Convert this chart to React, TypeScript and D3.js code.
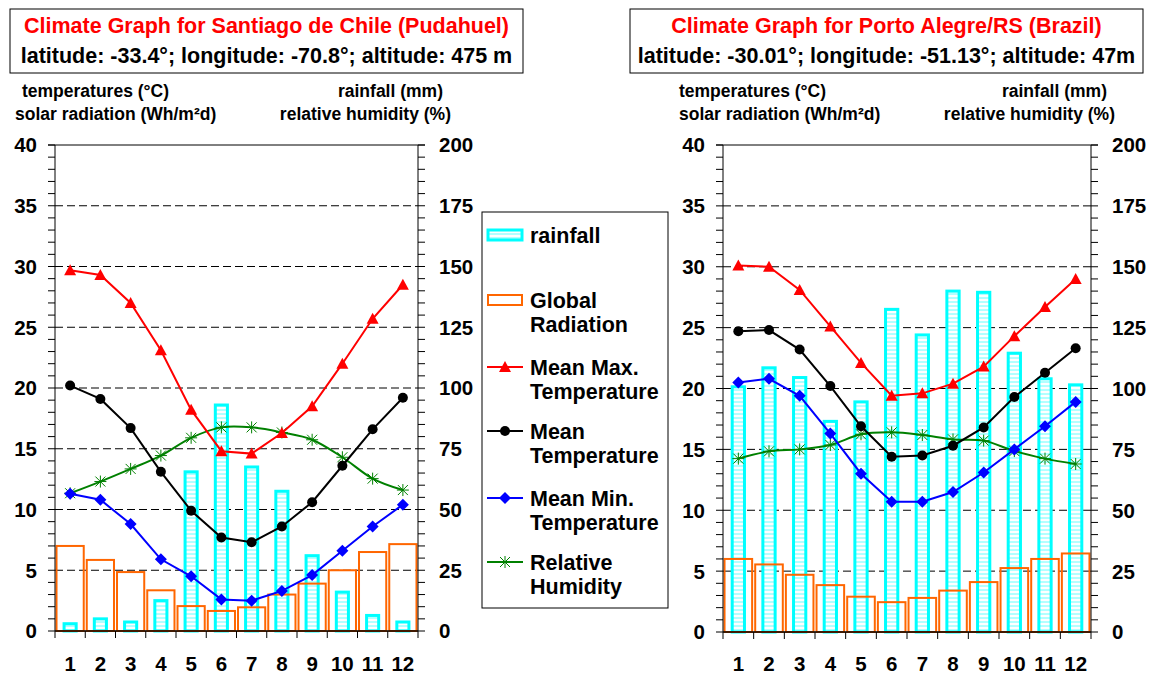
import React from 'react';
import * as d3 from 'd3';

const months = ['1', '2', '3', '4', '5', '6', '7', '8', '9', '10', '11', '12'];
const tempTicks = [0, 5, 10, 15, 20, 25, 30, 35, 40];
const rainTicks = [0, 25, 50, 75, 100, 125, 150, 175, 200];

// Santiago de Chile (Pudahuel)
const scRain = [3, 5, 3.7, 12.5, 65.5, 93, 67.5, 57.5, 31, 16, 6.4, 3.7];
const scRadiation = [7.0, 5.85, 4.85, 3.35, 2.05, 1.65, 1.95, 3.0, 3.9, 5.0, 6.5, 7.15];
const scTmax = [29.7, 29.3, 27.0, 23.1, 18.2, 14.8, 14.6, 16.3, 18.5, 22.0, 25.7, 28.5];
const scTmean = [20.2, 19.1, 16.7, 13.1, 9.9, 7.7, 7.3, 8.6, 10.6, 13.6, 16.6, 19.2];
const scTmin = [11.3, 10.8, 8.8, 5.9, 4.5, 2.6, 2.5, 3.3, 4.6, 6.6, 8.6, 10.4];
const scHumidity = [56.7, 61.5, 66.7, 72.2, 79.5, 83.8, 83.8, 81.7, 78.7, 71.5, 62.7, 58.0];

// Porto Alegre/RS (Brazil)
const paRain = [100.7, 108.5, 104.5, 86.5, 94.5, 132.5, 122, 140, 139.5, 114.5, 104, 101.5];
const paRadiation = [6.0, 5.55, 4.7, 3.85, 2.9, 2.45, 2.8, 3.4, 4.1, 5.25, 6.0, 6.45];
const paTmax = [30.1, 30.0, 28.1, 25.1, 22.1, 19.4, 19.6, 20.4, 21.8, 24.3, 26.7, 29.0];
const paTmean = [24.7, 24.8, 23.2, 20.2, 16.9, 14.4, 14.5, 15.3, 16.8, 19.3, 21.3, 23.3];
const paTmin = [20.5, 20.8, 19.4, 16.3, 13.0, 10.7, 10.7, 11.5, 13.1, 15.0, 16.9, 18.9];
const paHumidity = [71.2, 74.2, 75.0, 76.8, 81.2, 82.0, 80.9, 79.1, 78.6, 74.3, 71.2, 69.0];

const FONT = 'Arial, "Liberation Sans", sans-serif';
const RED = '#ff0000';
const BLUE = '#0000ff';
const GREEN = '#008000';
const ORANGE = '#ff6600';
const CYAN = '#00ffff';

type Mk = 'triangle' | 'circle' | 'diamond' | 'star';

const Marker = ({ kind, x, y, color }: { kind: Mk; x: number; y: number; color: string }) => {
  if (kind === 'triangle') {
    return <path d={`M${x},${y - 6} L${x + 6},${y + 5} L${x - 6},${y + 5} Z`} fill={color} />;
  }
  if (kind === 'circle') return <circle cx={x} cy={y} r={5} fill={color} />;
  if (kind === 'diamond') {
    return <path d={`M${x},${y - 6} L${x + 6},${y} L${x},${y + 6} L${x - 6},${y} Z`} fill={color} />;
  }
  const s = 5;
  return (
    <path
      d={`M${x - s},${y - s} L${x + s},${y + s} M${x - s},${y + s} L${x + s},${y - s} M${x},${y - s - 1} L${x},${y + s + 1} M${x - s - 1},${y} L${x + s + 1},${y}`}
      stroke={color}
      strokeWidth={1}
      fill="none"
    />
  );
};

type PanelProps = {
  id: string;
  box: [number, number];
  title: string;
  subtitle: string;
  x0: number;
  x1: number;
  y0: number;
  y1: number;
  labelL: [number, number];
  labelR: [number, number];
  rain: number[];
  radiation: number[];
  tmax: number[];
  tmean: number[];
  tmin: number[];
  humidity: number[];
};

const Panel = (p: PanelProps) => {
  const x = d3.scaleBand<string>().domain(months).range([p.x0, p.x1]).padding(0);
  const yT = d3.scaleLinear().domain([0, 40]).range([p.y1, p.y0]);
  const yR = d3.scaleLinear().domain([0, 200]).range([p.y1, p.y0]);
  const bw = x.bandwidth();
  const cx = (i: number) => (x(months[i]) as number) + bw / 2;

  const straight = (vals: number[], sc: d3.ScaleLinear<number, number>) =>
    d3.line<number>().x((_, i) => cx(i)).y((v) => sc(v))(vals) as string;
  const smooth = (vals: number[], sc: d3.ScaleLinear<number, number>) =>
    d3.line<number>().x((_, i) => cx(i)).y((v) => sc(v)).curve(d3.curveCatmullRom.alpha(0))(vals) as string;

  const minor = d3.range(0, 41, 1);
  const series: { vals: number[]; sc: any; color: string; mk: Mk; sm: boolean }[] = [
    { vals: p.humidity, sc: yR, color: GREEN, mk: 'star', sm: true },
    { vals: p.tmin, sc: yT, color: BLUE, mk: 'diamond', sm: false },
    { vals: p.tmean, sc: yT, color: '#000', mk: 'circle', sm: false },
    { vals: p.tmax, sc: yT, color: RED, mk: 'triangle', sm: false },
  ];
  const mid = (p.box[0] + p.box[1]) / 2;

  return (
    <g fontFamily={FONT} fontWeight="bold">
      <rect x={p.box[0]} y={9} width={p.box[1] - p.box[0]} height={64} fill="#fff" stroke="#000" strokeWidth={1} />
      <text x={mid} y={33} textAnchor="middle" fontSize={21.5} fill={RED}>{p.title}</text>
      <text x={mid} y={63} textAnchor="middle" fontSize={21.5} fill="#000">{p.subtitle}</text>

      <text x={p.labelL[0]} y={97} fontSize={17.5}>temperatures (°C)</text>
      <text x={p.labelL[1]} y={120} fontSize={17.5}>solar radiation (Wh/m²d)</text>
      <text x={p.labelR[0]} y={97} fontSize={17.5} textAnchor="end">rainfall (mm)</text>
      <text x={p.labelR[1]} y={120} fontSize={17.5} textAnchor="end">relative humidity (%)</text>

      {/* dashed grid */}
      {tempTicks.slice(1, -1).map((t) => (
        <line key={t} x1={p.x0} x2={p.x1} y1={yT(t)} y2={yT(t)} stroke="#000" strokeDasharray="8,4" />
      ))}

      {/* rainfall bars */}
      {p.rain.map((v, i) => (
        <rect
          key={'r' + i}
          x={cx(i) - bw * 0.2}
          y={yR(v)}
          width={bw * 0.4}
          height={p.y1 - yR(v)}
          fill={`url(#stripes-${p.id})`}
          stroke={CYAN}
          strokeWidth={3}
        />
      ))}
      {/* radiation bars */}
      {p.radiation.map((v, i) => (
        <rect
          key={'g' + i}
          x={cx(i) - bw * 0.45}
          y={yT(v)}
          width={bw * 0.9}
          height={p.y1 - yT(v)}
          fill="none"
          stroke={ORANGE}
          strokeWidth={2}
        />
      ))}

      {/* axes */}
      <line x1={p.x0} x2={p.x0} y1={p.y0} y2={p.y1} stroke="#000" />
      <line x1={p.x1} x2={p.x1} y1={p.y0} y2={p.y1} stroke="#000" />
      <line x1={p.x0 - 7} x2={p.x1 + 7} y1={p.y0} y2={p.y0} stroke="#000" />
      <line x1={p.x0} x2={p.x1} y1={p.y1} y2={p.y1} stroke="#000" strokeWidth={1.5} />
      {minor.map((t) => (
        <g key={'m' + t}>
          <line x1={p.x0 - 7} x2={p.x0} y1={yT(t)} y2={yT(t)} stroke="#000" />
          <line x1={p.x1} x2={p.x1 + 7} y1={yT(t)} y2={yT(t)} stroke="#000" />
        </g>
      ))}
      {d3.range(13).map((i) => {
        const xx = p.x0 + i * bw;
        return <line key={'xt' + i} x1={xx} x2={xx} y1={p.y1} y2={p.y1 + 7} stroke="#000" />;
      })}

      {tempTicks.map((t) => (
        <text key={'tl' + t} x={p.x0 - 18} y={yT(t)} dy="0.36em" textAnchor="end" fontSize={20.5}>{t}</text>
      ))}
      {rainTicks.map((t) => (
        <text key={'rl' + t} x={p.x1 + 21} y={yR(t)} dy="0.36em" fontSize={20.5}>{t}</text>
      ))}
      {months.map((m, i) => (
        <text key={'ml' + m} x={cx(i)} y={671} textAnchor="middle" fontSize={20.5}>{m}</text>
      ))}

      {/* lines */}
      {series.map((s, k) => (
        <g key={'s' + k}>
          <path d={s.sm ? smooth(s.vals, s.sc) : straight(s.vals, s.sc)} fill="none" stroke={s.color} strokeWidth={2} />
          {s.vals.map((v, i) => (
            <Marker key={i} kind={s.mk} x={cx(i)} y={s.sc(v)} color={s.color} />
          ))}
        </g>
      ))}
    </g>
  );
};

const legendItems: { label: string[]; kind: string; color: string; y: number }[] = [
  { label: ['rainfall'], kind: 'rain', color: CYAN, y: 235 },
  { label: ['Global', 'Radiation'], kind: 'rad', color: ORANGE, y: 300 },
  { label: ['Mean Max.', 'Temperature'], kind: 'triangle', color: RED, y: 367 },
  { label: ['Mean', 'Temperature'], kind: 'circle', color: '#000', y: 431 },
  { label: ['Mean Min.', 'Temperature'], kind: 'diamond', color: BLUE, y: 498 },
  { label: ['Relative', 'Humidity'], kind: 'star', color: GREEN, y: 562 },
];

const Legend = () => (
  <g fontFamily={FONT} fontWeight="bold">
    <rect x={482} y={212} width={186} height={396} fill="#fff" stroke="#000" />
    {legendItems.map((it) => (
      <g key={it.label.join(' ')}>
        {it.kind === 'rain' && (
          <rect x={488} y={it.y - 5} width={34} height={10} fill="url(#stripes-leg)" stroke={CYAN} strokeWidth={3} />
        )}
        {it.kind === 'rad' && (
          <rect x={488} y={it.y - 5} width={34} height={10} fill="#fff" stroke={ORANGE} strokeWidth={2} />
        )}
        {it.kind !== 'rain' && it.kind !== 'rad' && (
          <g>
            <line x1={487} x2={523} y1={it.y} y2={it.y} stroke={it.color} strokeWidth={2} />
            <Marker kind={it.kind as Mk} x={505} y={it.y} color={it.color} />
          </g>
        )}
        {it.label.map((l, j) => (
          <text key={l} x={530} y={it.y + j * 24} dy="0.36em" fontSize={21.5}>{l}</text>
        ))}
      </g>
    ))}
  </g>
);

const Stripes = ({ id }: { id: string }) => (
  <pattern id={id} width={4} height={4} patternUnits="userSpaceOnUse">
    <rect width={4} height={4} fill="#fff" />
    <line x1={0} x2={4} y1={2} y2={2} stroke="#66ffff" strokeWidth={1} />
  </pattern>
);

export default function App() {
  return (
    <svg width={1150} height={674} style={{ position: 'absolute', left: 0, top: 0, background: '#fff' }}>
      <defs>
        <Stripes id="stripes-sc" />
        <Stripes id="stripes-pa" />
        <Stripes id="stripes-leg" />
      </defs>
      <rect width={1150} height={674} fill="#fff" />
      <Panel
        id="sc"
        box={[10, 523]}
        title="Climate Graph for Santiago de Chile (Pudahuel)"
        subtitle="latitude: -33.4°; longitude: -70.8°; altitude: 475 m"
        x0={55}
        x1={418}
        y0={145}
        y1={631}
        labelL={[22, 15]}
        labelR={[443, 451]}
        rain={scRain}
        radiation={scRadiation}
        tmax={scTmax}
        tmean={scTmean}
        tmin={scTmin}
        humidity={scHumidity}
      />
      <Panel
        id="pa"
        box={[630, 1143]}
        title="Climate Graph for Porto Alegre/RS (Brazil)"
        subtitle="latitude: -30.01°; longitude: -51.13°; altitude: 47m"
        x0={723}
        x1={1091}
        y0={145}
        y1={632}
        labelL={[679, 679]}
        labelR={[1107, 1115]}
        rain={paRain}
        radiation={paRadiation}
        tmax={paTmax}
        tmean={paTmean}
        tmin={paTmin}
        humidity={paHumidity}
      />
      <Legend />
    </svg>
  );
}
